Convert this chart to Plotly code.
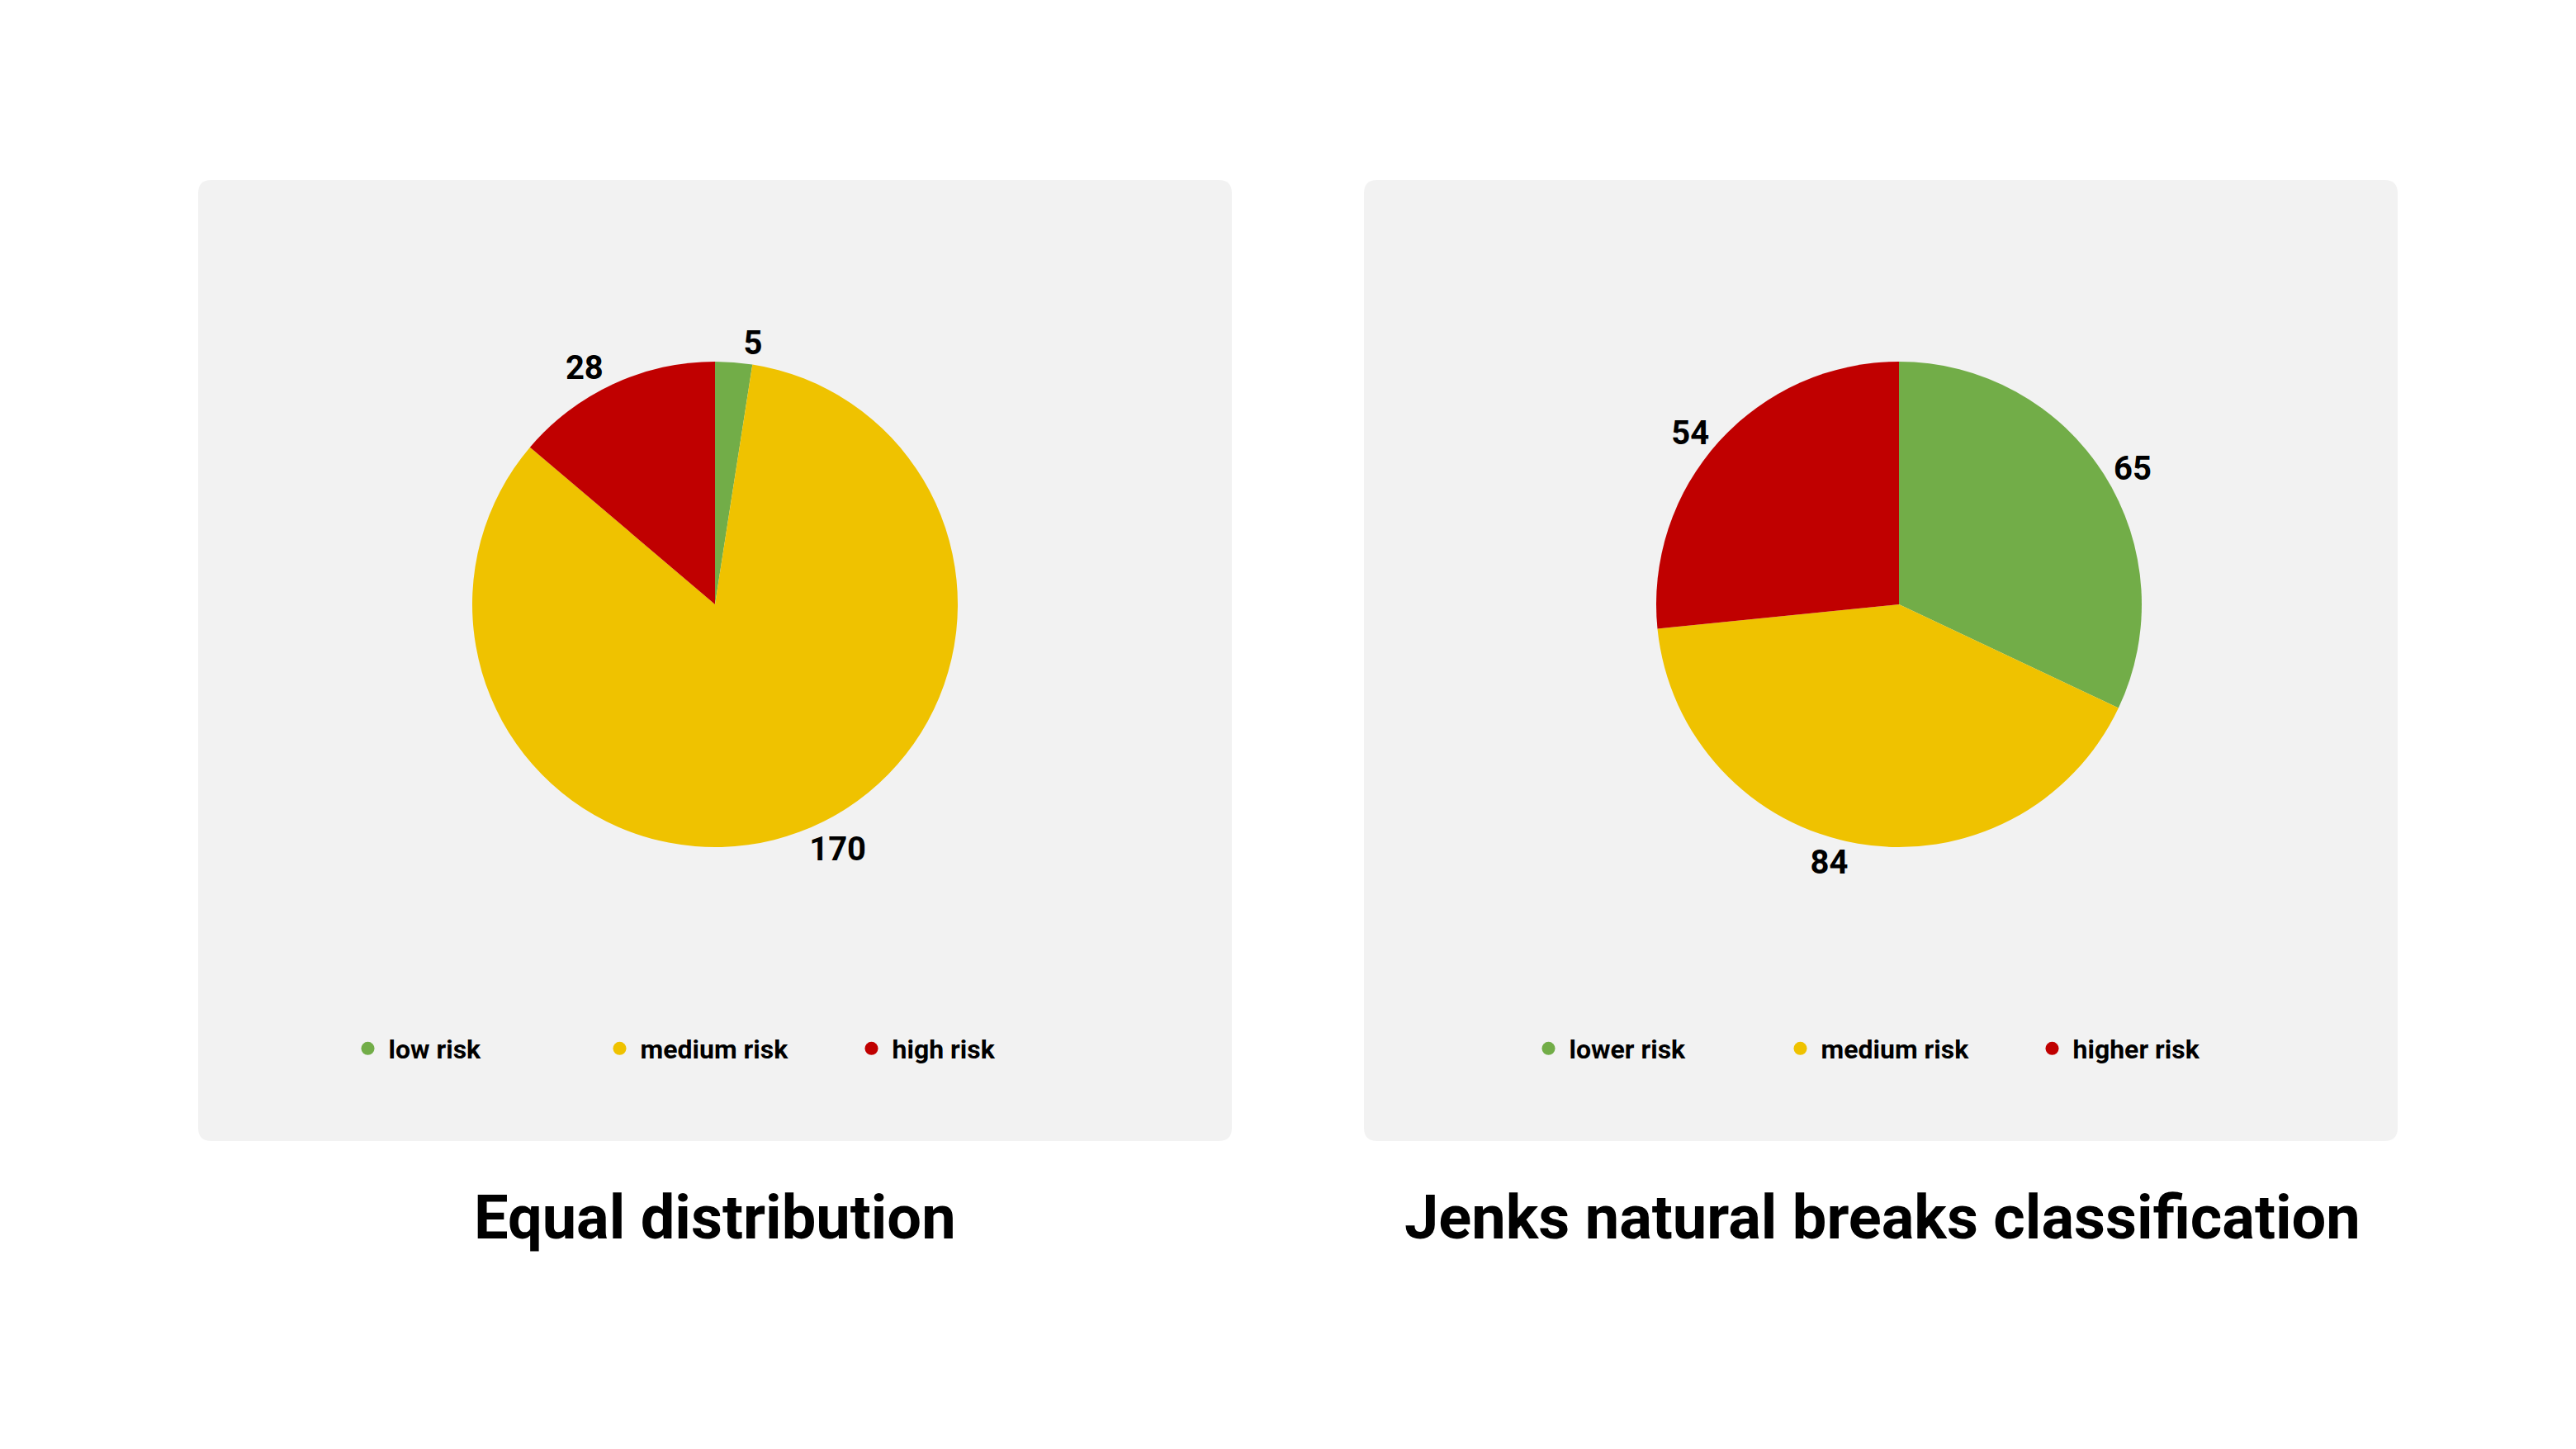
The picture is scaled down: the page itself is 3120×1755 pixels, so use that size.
import plotly.graph_objects as go

colors = ["#72ad48", "#efc200", "#c00000"]

left_labels = ["low risk", "medium risk", "high risk"]
left_values = [5, 170, 28]
left_title = "Equal distribution"

right_labels = ["lower risk", "medium risk", "higher risk"]
right_values = [65, 84, 54]
right_title = "Jenks natural breaks classification"

W, H = 3120, 1755
FONT = "Roboto"

fig = go.Figure()


def add_pie(values, cx, legend_name, labels, legend_x):
    r = 294
    fig.add_trace(go.Pie(
        values=values, labels=labels, sort=False, direction="clockwise", rotation=0,
        marker=dict(colors=colors), textinfo="value", textposition="outside",
        textfont=dict(family=FONT, size=40, color="black", weight="bold"),
        showlegend=False, hoverinfo="label+value",
        domain=dict(x=[(cx - r) / W, (cx + r) / W], y=[1 - (724 + r) / H, 1 - (724 - r) / H]),
    ))
    for lab, c in zip(labels, colors):
        fig.add_trace(go.Scatter(
            x=[None], y=[None], mode="markers", name=lab,
            marker=dict(color=c, size=22, symbol="circle"), legend=legend_name,
        ))
    return dict(
        orientation="h", x=legend_x, xanchor="center", y=1 - 1262 / H, yanchor="middle",
        font=dict(family=FONT, size=32, color="black", weight="bold"),
        bgcolor="rgba(0,0,0,0)", itemwidth=40, entrywidthmode="pixels", entrywidth=250,
    )


leg1 = add_pie(left_values, 858, "legend", left_labels, 870 / W)
leg2 = add_pie(right_values, 2292, "legend2", right_labels, 2300 / W)


def rounded_rect(x0, y0, x1, y1, r):
    return (f"M{x0+r},{y0} L{x1-r},{y0} Q{x1},{y0} {x1},{y0+r} L{x1},{y1-r} Q{x1},{y1} {x1-r},{y1} "
            f"L{x0+r},{y1} Q{x0},{y1} {x0},{y1-r} L{x0},{y0+r} Q{x0},{y0} {x0+r},{y0} Z")


shapes = []
for x0 in (232, 1644):
    shapes.append(dict(type="path", xref="x", yref="y", layer="below",
                       path=rounded_rect(x0, 210, x0 + 1252, 1374, 16),
                       fillcolor="#f2f2f2", line=dict(width=0)))

annotations = [
    dict(text=left_title, x=858, y=1466, xref="x", yref="y", showarrow=False,
         font=dict(family=FONT, size=74, color="black", weight="bold")),
    dict(text=right_title, x=2272, y=1466, xref="x", yref="y", showarrow=False,
         font=dict(family=FONT, size=74, color="black", weight="bold")),
]

fig.update_layout(
    width=W, height=H, margin=dict(l=0, r=0, t=0, b=0),
    paper_bgcolor="white", plot_bgcolor="white",
    xaxis=dict(range=[0, W], visible=False, domain=[0, 1]),
    yaxis=dict(range=[H, 0], visible=False, domain=[0, 1]),
    shapes=shapes, annotations=annotations,
    legend=leg1, legend2=leg2,
)

fig.write_html("out.html")
